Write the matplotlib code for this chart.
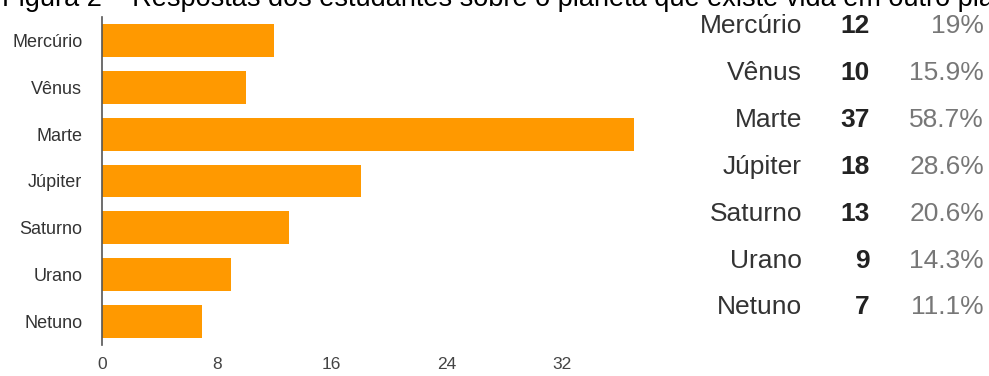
import matplotlib
matplotlib.use("Agg")
import matplotlib.pyplot as plt

planets = ["Mercúrio", "Vênus", "Marte", "Júpiter", "Saturno", "Urano", "Netuno"]
counts = [12, 10, 37, 18, 13, 9, 7]
percents = ["19%", "15.9%", "58.7%", "28.6%", "20.6%", "14.3%", "11.1%"]
xticks = [0, 8, 16, 24, 32]
title = "Figura 2 – Respostas dos estudantes sobre o planeta que existe vida em outro planeta"

W, H = 989, 376
plt.rcParams["font.family"] = ["Liberation Sans", "DejaVu Sans"]

fig = plt.figure(figsize=(W / 100, H / 100), dpi=100)

# bar area in pixel coordinates
left, right = 101.7, 101.7 + 40 * 14.38
top, bottom = 17, 345
ax = fig.add_axes([left / W, 1 - bottom / H, (right - left) / W, (bottom - top) / H])

ypos = list(range(len(planets)))
ax.barh(ypos, counts, height=0.7, color="#ff9900")
ax.set_xlim(0, 40)
ax.set_ylim(len(planets) - 0.5, -0.5)

for side in ["top", "right", "bottom"]:
    ax.spines[side].set_visible(False)
ax.spines["left"].set_color("#555555")
ax.spines["left"].set_linewidth(1.2)

ax.set_yticks(ypos)
ax.set_yticklabels(planets, fontsize=13, color="#333333")
ax.set_xticks(xticks)
ax.set_xticklabels([str(t) for t in xticks], fontsize=12.5, color="#444444")
ax.tick_params(axis="y", length=0, pad=14)
ax.tick_params(axis="x", length=0, pad=8.5)

# summary table on the right
row0, step = 26, 46.9
for i, (name, n, p) in enumerate(zip(planets, counts, percents)):
    yc = 1 - (row0 + i * step) / H
    fig.text(802 / W, yc, name, ha="right", va="center", fontsize=19, color="#333333")
    fig.text(870 / W, yc, str(n), ha="right", va="center", fontsize=19,
             fontweight="bold", color="#222222")
    fig.text(984 / W, yc, p, ha="right", va="center", fontsize=19, color="#777777")

# caption, cut off at the top edge like the original screenshot
fig.text(2 / W, 1 - 6 / H, title, ha="left", va="baseline", fontsize=19.5, color="black")

fig.savefig("out.png", dpi=100)
